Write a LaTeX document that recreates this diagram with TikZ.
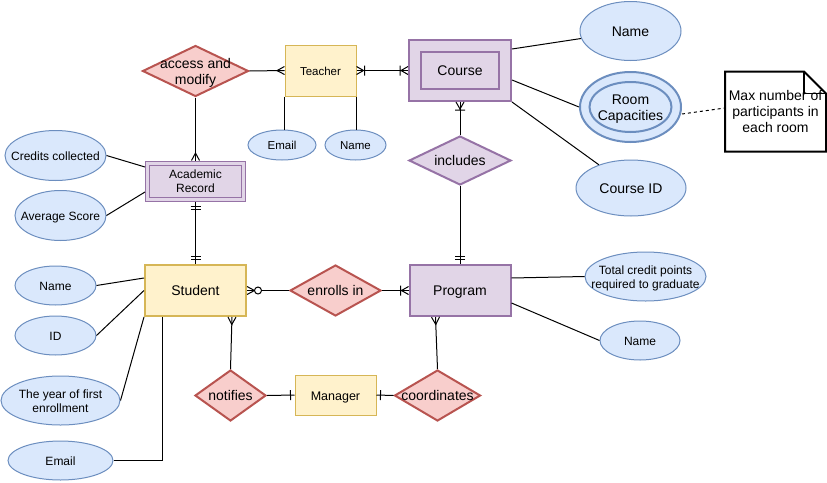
\documentclass[tikz,border=0pt]{standalone}
\usepackage{fontspec}
\setmainfont{Liberation Sans}
\usetikzlibrary{shapes.geometric}

\definecolor{yelfill}{HTML}{FFF2CC}
\definecolor{yelline}{HTML}{D6B656}
\definecolor{redfill}{HTML}{F8CECC}
\definecolor{redline}{HTML}{B85450}
\definecolor{purfill}{HTML}{E1D5E7}
\definecolor{purline}{HTML}{9673A6}
\definecolor{blufill}{HTML}{DAE8FC}
\definecolor{bluline}{HTML}{6C8EBF}

\newcommand{\fsz}[2]{\fontsize{#1}{#2}\selectfont}
\newcommand{\zt}[1]{\makebox[0pt]{\raisebox{-2pt}[\height][\depth]{\begin{tabular}{@{}c@{}}#1\end{tabular}}}}

% crow's foot tips
\pgfarrowsdeclare{crowmany}{crowmany}
  {\pgfarrowsleftextend{-9pt}\pgfarrowsrightextend{0pt}}
  {\pgfsetdash{}{0pt}
   \pgfpathmoveto{\pgfpoint{0pt}{4pt}}
   \pgfpathlineto{\pgfpoint{-7.5pt}{0pt}}
   \pgfpathlineto{\pgfpoint{0pt}{-4pt}}
   \pgfusepathqstroke}
\pgfarrowsdeclare{crowonemany}{crowonemany}
  {\pgfarrowsleftextend{-9pt}\pgfarrowsrightextend{0pt}}
  {\pgfsetdash{}{0pt}
   \pgfpathmoveto{\pgfpoint{0pt}{4pt}}
   \pgfpathlineto{\pgfpoint{-7pt}{0pt}}
   \pgfpathlineto{\pgfpoint{0pt}{-4pt}}
   \pgfpathmoveto{\pgfpoint{-8pt}{5pt}}
   \pgfpathlineto{\pgfpoint{-8pt}{-5pt}}
   \pgfusepathqstroke}
\pgfarrowsdeclare{crowzeromany}{crowzeromany}
  {\pgfarrowsleftextend{-15pt}\pgfarrowsrightextend{0pt}}
  {\pgfsetdash{}{0pt}
   \pgfpathmoveto{\pgfpoint{0pt}{4pt}}
   \pgfpathlineto{\pgfpoint{-7.5pt}{0pt}}
   \pgfpathlineto{\pgfpoint{0pt}{-4pt}}
   \pgfusepathqstroke
   \pgfsetfillcolor{white}
   \pgfpathcircle{\pgfpoint{-11pt}{0pt}}{3.5pt}
   \pgfusepathqfillstroke}
\pgfarrowsdeclare{crowone}{crowone}
  {\pgfarrowsleftextend{-5pt}\pgfarrowsrightextend{0pt}}
  {\pgfsetdash{}{0pt}
   \pgfpathmoveto{\pgfpoint{-4pt}{5pt}}
   \pgfpathlineto{\pgfpoint{-4pt}{-5pt}}
   \pgfusepathqstroke}
\pgfarrowsdeclare{crowmandone}{crowmandone}
  {\pgfarrowsleftextend{-9pt}\pgfarrowsrightextend{0pt}}
  {\pgfsetdash{}{0pt}
   \pgfpathmoveto{\pgfpoint{-4.5pt}{5pt}}
   \pgfpathlineto{\pgfpoint{-4.5pt}{-5pt}}
   \pgfpathmoveto{\pgfpoint{-8pt}{5pt}}
   \pgfpathlineto{\pgfpoint{-8pt}{-5pt}}
   \pgfusepathqstroke}

\tikzset{
  sz/.style 2 args={minimum width=#1, minimum height=#2},
  entity/.style={rectangle, draw=yelline, fill=yelfill, inner sep=0pt},
  weakent/.style={rectangle, draw=purline, fill=purfill, inner sep=0pt},
  relship/.style={diamond, draw=redline, fill=redfill, line width=2pt, inner sep=0pt, font=\fsz{14}{16}},
  attrib/.style={ellipse, draw=bluline, fill=blufill, inner sep=0pt, font=\fsz{12}{14}},
  notebox/.style={rectangle, fill=white, inner sep=0pt, font=\fsz{14}{16}},
}

\begin{document}
\begin{tikzpicture}[x=1pt, y=-1pt, line width=1pt]
\useasboundingbox (0,0) rectangle (827,482);

% entities
\node[entity, sz={71}{51}, font=\fsz{11.5}{14}] (teacher) at (320.5,70.5) {\zt{Teacher}};
\node[weakent, sz={102}{61}, line width=2pt, font=\fsz{14}{16}] (course) at (460,70.5) {\zt{Course}};
\draw[purline, line width=2pt] ([shift={(13,13)}]course.north west) rectangle ([shift={(-13,-13)}]course.south east);
\node[weakent, sz={100}{40}, font=\fsz{12}{14}] (acad) at (195.5,181) {\zt{Academic\\Record}};
\draw[purline] ([shift={(4.5,4.5)}]acad.north west) rectangle ([shift={(-4.5,-4.5)}]acad.south east);
\node[entity, sz={101}{51}, line width=2pt, font=\fsz{14}{16}] (student) at (195.5,290.5) {\zt{Student}};
\node[weakent, sz={101}{51}, line width=2pt, font=\fsz{14}{16}] (prog) at (460,290.5) {\zt{Program}};
\node[entity, sz={81}{40}, font=\fsz{12.5}{15}] (manager) at (335.5,395) {\zt{Manager}};

% relationships
\node[relship, sz={106}{51}] (access) at (195.5,71) {\zt{access and\\modify}};
\node[relship, sz={102}{49}, draw=purline, fill=purfill] (incl) at (460,160.5) {\zt{includes}};
\node[relship, sz={91}{51}] (enrolls) at (335.5,290.5) {\zt{enrolls in}};
\node[relship, sz={71}{51}] (notif) at (230.5,395.5) {\zt{notifies}};
\node[relship, sz={86}{51}] (coord) at (437.5,395.5) {\zt{coordinates}};

% attributes
\node[attrib, sz={68}{30}, font=\fsz{11.5}{14}] (temail) at (282,145) {\zt{Email}};
\node[attrib, sz={61}{30}, font=\fsz{11.5}{14}] (tname) at (355.5,145) {\zt{Name}};
\node[attrib, sz={101}{59}, font=\fsz{14}{16}] (cname) at (630.5,31) {\zt{Name}};
\node[attrib, sz={101}{70}, line width=2pt, font=\fsz{14}{16}] (room) at (630.5,107) {\zt{Room\\Capacities}};
\draw[bluline, line width=2pt] (room.center) ellipse [x radius=41, y radius=25];
\node[attrib, sz={110}{56}, font=\fsz{14}{16}] (cid) at (631,188) {\zt{Course ID}};
\node[attrib, sz={101}{50}] (credits) at (55.5,155.5) {\zt{Credits collected}};
\node[attrib, sz={91}{50}] (avg) at (60.5,215.5) {\zt{Average Score}};
\node[attrib, sz={81}{39}] (sname) at (55.5,285.5) {\zt{Name}};
\node[attrib, sz={81}{39}] (sid) at (55.5,335.5) {\zt{ID}};
\node[attrib, sz={119}{49}] (syear) at (60.5,400.5) {\zt{The year of first\\enrollment}};
\node[attrib, sz={105}{39}] (semail) at (60.5,460.5) {\zt{Email}};
\node[attrib, sz={121}{49}] (total) at (645.5,276.5) {\zt{Total credit points\\required to graduate}};
\node[attrib, sz={80}{39}] (pname) at (640,340.5) {\zt{Name}};

% note
\node[notebox, sz={100}{79}] (note) at (775.5,111.5) {\zt{Max number of\\participants in\\each room}};
\draw[line width=2pt] (note.north west) -- ([xshift=-22pt]note.north east) -- ([yshift=-22pt]note.north east)
  -- (note.south east) -- (note.south west) -- cycle;
\draw[line width=1.5pt] ([xshift=-22pt]note.north east) -- ([xshift=-22pt, yshift=-22pt]note.north east)
  -- ([yshift=-22pt]note.north east);
\draw[dashed] ([yshift=-7pt]room.east) -- ([yshift=3.5pt]note.west);

% attribute links
\draw (teacher.south west) -- (temail.north -| teacher.south west);
\draw (teacher.south east) -- (tname.north -| teacher.south east);
\draw ([yshift=21.5pt]course.east) -- (cname);
\draw ([yshift=-9.5pt]course.east) -- (room.west);
\draw (course.south east) -- (cid);
\draw (credits.east) -- ([yshift=14pt]acad.west);
\draw (avg.east) -- ([yshift=-11pt]acad.west);
\draw (sname.east) -- ([yshift=12.5pt]student.west);
\draw (sid.east) -- (student.west);
\draw (syear.east) -- (student.south west);
\draw (semail.east) -| ([xshift=-33.5pt]student.south);
\draw ([yshift=12.5pt]prog.east) -- (total.west);
\draw ([yshift=-12.5pt]prog.east) -- (pname.west);

% relationship links
\draw[-crowmany] (access.east) -- (teacher.west);
\draw[crowonemany-crowonemany] (teacher.east) -- (course.west);
\draw[-crowmany] (access.south) -- (acad.north);
\draw[crowmandone-crowmandone] (acad.south) -- (student.north);
\draw[crowonemany-] (course.south) -- (incl.north);
\draw[-crowmandone] (incl.south) -- (prog.north);
\draw[crowzeromany-] (student.east) -- (enrolls.west);
\draw[-crowonemany] (enrolls.east) -- (prog.west);
\draw[crowmany-] ([xshift=36.5pt]student.south) -- (notif.north);
\draw[-crowone] (notif.east) -- (manager.west);
\draw[crowone-] (manager.east) -- (coord.west);
\draw[crowmany-] ([xshift=-24.5pt]prog.south) -- (coord.north);
\end{tikzpicture}
\end{document}
